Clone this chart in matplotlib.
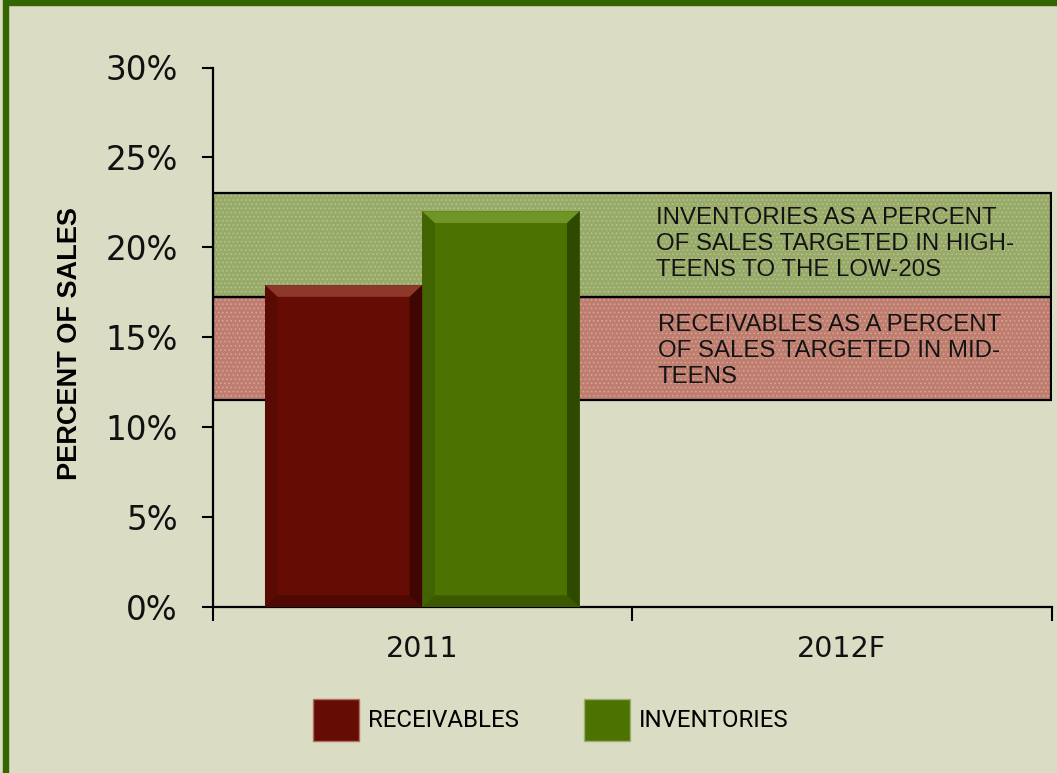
import numpy as np
import matplotlib.pyplot as plt
from matplotlib.patches import Rectangle, Polygon, Patch

# donnees
categories = ["2011", "2012F"]
receivables = [17.9, np.nan]
inventories = [22.0, np.nan]
# zones cibles (bas, haut) en %
bande_inv = (17.25, 23.0)
bande_rec = (11.5, 17.25)
texte_inv = "INVENTORIES AS A PERCENT\nOF SALES TARGETED IN HIGH-\nTEENS TO THE LOW-20S"
texte_rec = "RECEIVABLES AS A PERCENT\nOF SALES TARGETED IN MID-\nTEENS"
yticks = [0, 5, 10, 15, 20, 25, 30]

fond = "#DBDCC4"
c_rec, c_rec_clair, c_rec_fonce = "#650C04", "#8E382C", "#3A0602"
c_inv, c_inv_clair, c_inv_fonce = "#4C7202", "#6E9526", "#2A4200"

plt.rcParams["hatch.linewidth"] = 0.6

fig = plt.figure(figsize=(10.57, 7.73), dpi=100, facecolor=fond)
ax = fig.add_axes([212.5/1057, 1-607/773, 839/1057, 539.5/773])
ax.set_facecolor(fond)

x = np.arange(len(categories))
w = 0.375

# bandes (fond tramé + contour)
ax.axhspan(*bande_inv, xmin=0, xmax=0.999, facecolor="#98AA68", edgecolor="#B8C496", hatch="....", lw=0, zorder=1)
ax.axhspan(*bande_rec, xmin=0, xmax=0.999, facecolor="#BF7D6F", edgecolor="#D7A898", hatch="....", lw=0, zorder=1)
ax.axhspan(*bande_inv, xmin=0, xmax=0.999, fill=False, edgecolor="black", lw=1.6, zorder=1.5)
ax.axhspan(*bande_rec, xmin=0, xmax=0.999, fill=False, edgecolor="black", lw=1.6, zorder=1.5)

b1 = ax.bar(x - w/2, receivables, w, color=c_rec, zorder=3)
b2 = ax.bar(x + w/2, inventories, w, color=c_inv, zorder=3)

def biseau(p, clair, fonce):
    # petit effet de relief sur la barre
    x0, bw, h = p.get_x(), p.get_width(), p.get_height()
    if not np.isfinite(h):
        return
    bx, by = 0.03, 0.65
    haut = [(x0, h), (x0+bw, h), (x0+bw-bx, h-by), (x0+bx, h-by)]
    droite = [(x0+bw, h), (x0+bw, 0), (x0+bw-bx, by), (x0+bw-bx, h-by)]
    bas = [(x0, 0), (x0+bw, 0), (x0+bw-bx, by), (x0+bx, by)]
    gauche = [(x0, 0), (x0, h), (x0+bx, h-by), (x0+bx, by)]
    ax.add_patch(Polygon(haut, closed=True, color=clair, lw=0, zorder=4))
    ax.add_patch(Polygon(droite, closed=True, color=fonce, alpha=0.85, lw=0, zorder=4))
    ax.add_patch(Polygon(bas, closed=True, color=fonce, alpha=0.5, lw=0, zorder=4))
    ax.add_patch(Polygon(gauche, closed=True, color=fonce, alpha=0.3, lw=0, zorder=4))

for p in b1:
    biseau(p, c_rec_clair, c_rec_fonce)
for p in b2:
    biseau(p, c_inv_clair, c_inv_fonce)

ax.text(0.557, 22.25, texte_inv, fontsize=17.3, family="Liberation Sans", va="top", ha="left",
        linespacing=1.24, color="#141414", zorder=5)
ax.text(0.561, 16.3, texte_rec, fontsize=17.3, family="Liberation Sans", va="top", ha="left",
        linespacing=1.24, color="#141414", zorder=5)

ax.set_xlim(-0.5, 1.5)
ax.set_ylim(0, 30)
ax.set_yticks(yticks)
ax.set_yticklabels([f"{t}%" for t in yticks], fontsize=23.5, color="#111111")
ax.set_xticks([-0.5, 0.5, 1.5])
ax.set_xticklabels([])
ax.set_xticks(x, minor=True)
ax.set_xticklabels(categories, minor=True, fontsize=20.5, color="#111111")
ax.tick_params(axis="x", which="major", length=10, width=1.5, direction="out")
ax.tick_params(axis="x", which="minor", length=0, pad=20)
ax.tick_params(axis="y", length=8, width=1.5, pad=17)
for s in ["top", "right"]:
    ax.spines[s].set_visible(False)
for s in ["left", "bottom"]:
    ax.spines[s].set_linewidth(1.6)

fig.text(70/1057, 1-344/773, "PERCENT OF SALES", rotation=90, ha="center", va="center",
         fontsize=19.5, fontweight="bold", family="Liberation Sans")

poignees = [Patch(facecolor=c_rec, edgecolor="#B07060", lw=1),
            Patch(facecolor=c_inv, edgecolor="#9CB070", lw=1)]
fig.legend(poignees, ["RECEIVABLES", "INVENTORIES"], loc="center", bbox_to_anchor=(551/1057, 1-720/773),
           ncol=2, frameon=False, prop={"family": "Roboto", "size": 17.3}, handlelength=1.9,
           handleheight=2.3, handletextpad=0.4, columnspacing=2.7)

# cadre vert
fig.patches.append(Rectangle((6/1057, -0.05), 1.1, 1.05 - 3/773, transform=fig.transFigure, fill=False,
                             edgecolor="#336600", lw=4.6, clip_on=False))

fig.savefig("out.png", dpi=100, facecolor=fond)
